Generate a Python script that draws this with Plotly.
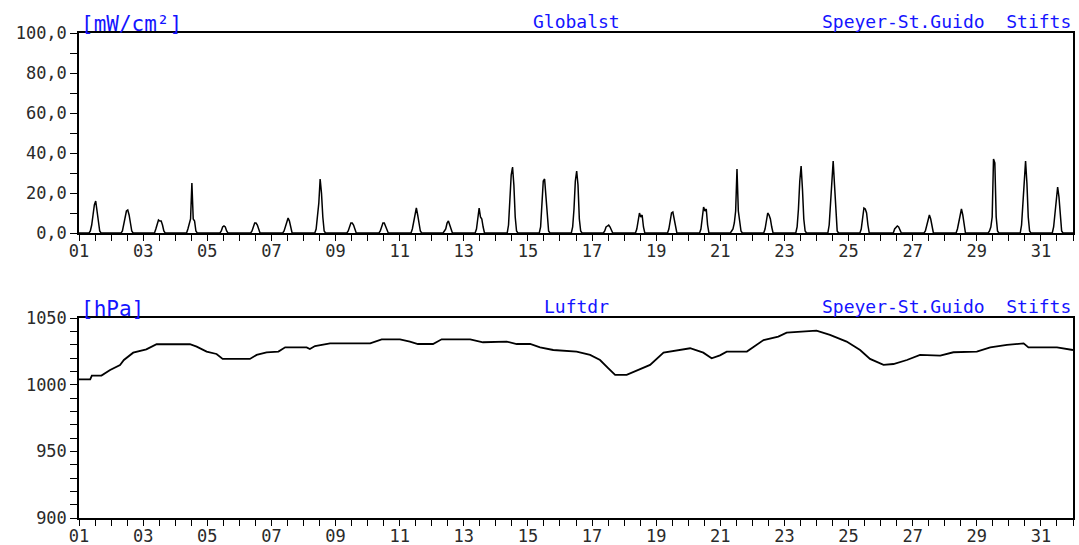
import plotly.graph_objects as go

# ---------------- data ----------------
days = list(range(1, 32))
daylight_hours = [8, 9, 10, 11, 12, 13, 14, 15, 16]

# global radiation [mW/cm2], hourly values during daylight for each day 01..31
radiation_by_day = [
    [1, 4, 9, 14, 16, 11, 5, 1, 0],      # 01
    [1, 4, 8, 11, 11.5, 9, 5, 1, 0],     # 02
    [0, 2, 5, 6.5, 6, 6, 4, 1, 0],       # 03
    [0, 2, 5, 7, 25, 7, 6, 1, 0],        # 04
    [0, 0, 1, 3, 3.5, 3, 1, 0, 0],       # 05
    [0, 1, 3, 5, 5, 4, 2, 0, 0],         # 06
    [0, 1, 3, 6, 7.5, 6, 2, 0, 0],       # 07
    [0, 2, 8, 15, 27, 20, 8, 1, 0],      # 08
    [0, 1, 3, 5, 5, 4, 2, 0, 0],         # 09
    [0, 1, 3, 5, 5, 3, 1, 0, 0],         # 10
    [0, 2, 6, 10, 12.5, 9, 4, 1, 0],     # 11
    [0, 1, 2, 5, 6, 4, 2, 0, 0],         # 12
    [0, 2, 7, 12.5, 8, 7, 3, 0, 0],      # 13
    [0, 4, 14, 29, 33, 24, 8, 1, 0],     # 14
    [0, 3, 13, 26, 27, 18, 6, 1, 0],     # 15
    [0, 3, 12, 26, 31, 24, 7, 1, 0],     # 16
    [0, 1, 3, 3.5, 4, 3, 1, 0, 0],       # 17
    [0, 2, 6, 10, 8, 9, 3, 0, 0],        # 18
    [0, 2, 6, 10, 10.5, 7, 3, 0, 0],     # 19
    [0, 2, 7, 13, 11, 12, 4, 0, 0],      # 20
    [1, 2, 5, 11, 32, 11, 6, 1, 0],      # 21
    [0, 2, 6, 10, 9, 7, 3, 0, 0],        # 22
    [0, 3, 12, 26, 33.5, 22, 7, 1, 0],   # 23
    [0, 4, 14, 28, 36, 24, 8, 1, 0],     # 24
    [0, 2, 7, 12.5, 12, 10, 4, 0, 0],    # 25
    [0, 0, 2, 3, 3.5, 3, 1, 0, 0],       # 26
    [0, 1, 4, 7, 9, 7, 3, 0, 0],         # 27
    [0, 2, 5, 9, 12, 9, 4, 0, 0],        # 28
    [0, 1, 3, 8, 37, 35, 8, 1, 0],       # 29
    [0, 4, 14, 28, 36, 25, 8, 1, 0],     # 30
    [0, 3, 9, 17, 23, 18, 7, 1, 0],      # 31
]

# air pressure [hPa]; positions in days (01.00 = start of day 1)
pressure_day = [
    1.0, 1.35, 1.4, 1.7, 1.97, 2.28, 2.4, 2.69, 3.1, 3.42, 4.46, 4.67, 4.98,
    5.29, 5.48, 6.33, 6.54, 6.85, 7.22, 7.43, 8.1, 8.2, 8.36, 8.83, 9.76,
    10.08, 10.44, 11.01, 11.32, 11.57, 12.04, 12.31, 13.2, 13.6, 14.34,
    14.65, 15.07, 15.38, 15.79, 16.52, 16.94, 17.25, 17.51, 17.72, 18.08,
    18.4, 18.81, 19.23, 19.75, 20.06, 20.47, 20.73, 20.99, 21.2, 21.83,
    22.35, 22.81, 23.07, 24.0, 24.42, 24.94, 25.36, 25.67, 26.09, 26.4,
    26.82, 27.23, 27.86, 28.27, 29.0, 29.42, 29.94, 30.46, 30.61, 31.5, 32.0,
]
pressure_hpa = [
    1004, 1004, 1006.8, 1006.8, 1011, 1014.8, 1018.5, 1024, 1026.5, 1030.3,
    1030.3, 1028.5, 1024.8, 1023, 1019.3, 1019.3, 1022.3, 1024.3, 1024.8,
    1028, 1028, 1026.8, 1029, 1031, 1031,
    1031, 1034, 1034, 1032.3, 1030.5, 1030.5, 1034, 1034, 1031.8, 1032.3,
    1030.5, 1030.5, 1028, 1026, 1024.8, 1022.3, 1018.5, 1012.3, 1007.3,
    1007.3, 1010.5, 1014.8, 1024, 1026, 1027.3, 1024, 1019.8, 1022, 1024.8,
    1024.8, 1033.5, 1036, 1039, 1040.5, 1037.3, 1032.3, 1026, 1019.3,
    1014.8, 1015.5, 1018.5, 1022.3, 1021.8, 1024.3, 1024.8, 1028, 1029.8,
    1031, 1028, 1028, 1026,
]

x_tickvals = list(range(1, 32, 2))
x_ticktext = ["%02d" % d for d in x_tickvals]
y1_tickvals = [0, 20, 40, 60, 80, 100]
y1_ticktext = ["0,0", "20,0", "40,0", "60,0", "80,0", "100,0"]
y2_tickvals = [900, 950, 1000, 1050]
y2_ticktext = ["900", "950", "1000", "1050"]

# ---------------- build series ----------------
rad_x, rad_y = [], []
for d, vals in zip(days, radiation_by_day):
    hourly = dict(zip(daylight_hours, vals))
    for h in range(24):
        rad_x.append(d + (h + 0.5) / 24.0)
        rad_y.append(hourly.get(h, 0.0))
rad_x.insert(0, 1.0)
rad_y.insert(0, 0.0)
rad_x.append(32.0)
rad_y.append(0.0)

BLUE = "#1414ff"
FONT = "DejaVu Sans Mono"
TICKCOL = "#2a2a2a"

fig = go.Figure()
fig.add_trace(go.Scatter(x=rad_x, y=rad_y, mode="lines", line=dict(color="black", width=1.5),
                         xaxis="x", yaxis="y", showlegend=False, hoverinfo="skip"))
fig.add_trace(go.Scatter(x=pressure_day, y=pressure_hpa, mode="lines", line=dict(color="black", width=1.8),
                         xaxis="x2", yaxis="y2", showlegend=False, hoverinfo="skip"))

H = 545 - 33 - 27
top_dom = [1 - 200 / H, 1]
bot_dom = [0, 200 / H]

common_x = dict(
    range=[1, 32], tickmode="array", tickvals=x_tickvals, ticktext=x_ticktext,
    ticks="outside", ticklen=6, tickwidth=1.3, tickcolor="black",
    showline=True, linecolor="black", linewidth=1.5, mirror=True,
    showgrid=False, zeroline=False, automargin=False, ticklabelstandoff=-4,
    tickfont=dict(family=FONT, size=17, color=TICKCOL),
    minor=dict(tickmode="linear", tick0=1, dtick=0.5, ticks="outside", ticklen=6,
               tickwidth=1.3, tickcolor="black", showgrid=False),
)
common_y = dict(
    ticks="outside", ticklen=7, tickwidth=1.3, tickcolor="black",
    showline=True, linecolor="black", linewidth=1.5, mirror=True,
    showgrid=False, zeroline=False, automargin=False,
    tickfont=dict(family=FONT, size=17, color=TICKCOL),
)

fig.update_layout(
    width=1079, height=545,
    margin=dict(l=79, r=6, t=33, b=27),
    plot_bgcolor="white", paper_bgcolor="white",
    xaxis=dict(domain=[0, 1], anchor="y", **common_x),
    yaxis=dict(domain=top_dom, anchor="x", range=[0, 100], tickmode="array",
               tickvals=y1_tickvals, ticktext=y1_ticktext,
               minor=dict(tickmode="linear", tick0=0, dtick=10, ticks="outside", ticklen=7,
                          tickwidth=1.3, tickcolor="black", showgrid=False),
               **common_y),
    xaxis2=dict(domain=[0, 1], anchor="y2", **common_x),
    yaxis2=dict(domain=bot_dom, anchor="x2", range=[900, 1050], tickmode="array",
                tickvals=y2_tickvals, ticktext=y2_ticktext,
                minor=dict(tickmode="linear", tick0=900, dtick=10, ticks="outside", ticklen=7,
                           tickwidth=1.3, tickcolor="black", showgrid=False),
                **common_y),
)

ann_font = dict(family=FONT, size=18, color=BLUE)
for dom, unit, name in [(top_dom, "[mW/cm²]", "Globalst"), (bot_dom, "[hPa]", "Luftdr")]:
    fig.add_annotation(x=0, y=dom[1], xref="paper", yref="paper", text=unit, showarrow=False,
                       xanchor="left", yanchor="bottom", font=dict(family=FONT, size=21, color=BLUE), yshift=-5)
    fig.add_annotation(x=0.5, y=dom[1], xref="paper", yref="paper", text=name, showarrow=False,
                       xanchor="center", yanchor="bottom", font=ann_font, yshift=-1)
    fig.add_annotation(x=1, y=dom[1], xref="paper", yref="paper", text="Speyer-St.Guido\u00a0 Stifts",
                       showarrow=False, xanchor="right", yanchor="bottom", font=ann_font, yshift=-1)

fig.write_html("out.html", config={"displayModeBar": False},
               post_script="document.body.style.margin='0';document.body.style.overflow='hidden';")
